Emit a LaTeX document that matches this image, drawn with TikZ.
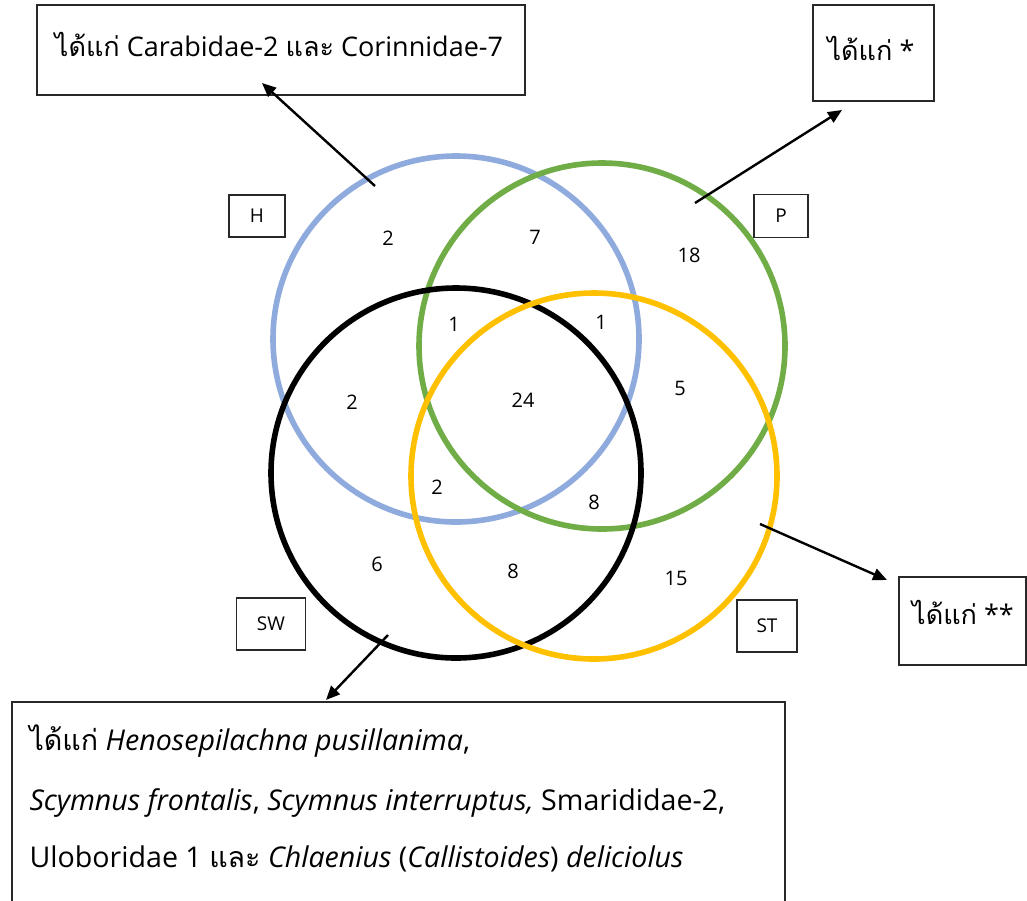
\documentclass[tikz,border=0pt]{standalone}
\usepackage{fontspec}
\setmainfont{Open Sans}
\newfontfamily\thai[Script=Thai]{Loma}
\usetikzlibrary{arrows.meta}
\definecolor{hblue}{RGB}{143,170,220}
\definecolor{pgreen}{RGB}{112,173,71}
\definecolor{styellow}{RGB}{255,192,0}
\definecolor{boxgray}{RGB}{40,40,40}
\begin{document}
\begin{tikzpicture}[x=1pt,y=-1pt,
  ring/.style={line width=5.6pt},
  tag/.style={draw=boxgray,line width=1.4pt,inner sep=0pt,font=\fontsize{19}{21}\selectfont},
  note/.style={draw=boxgray,line width=1.4pt,inner sep=0pt},
  num/.style={font=\fontsize{20}{22}\selectfont},
  pointer/.style={line width=2.4pt,-{Triangle[length=14pt,width=12pt]}},
  bigtxt/.style={font=\fontsize{27}{30}\selectfont},
  bottxt/.style={font=\fontsize{28.6}{30}\selectfont,anchor=west}]
\useasboundingbox[fill=white] (0,0) rectangle (1027,900);
% circles
\draw[ring,hblue] (456,339) circle (183);
\draw[ring,pgreen] (602,346) circle (183);
\draw[ring,black] (456,473) circle (185);
\draw[ring,styellow] (594,476) circle (183);
% set tags
\node[tag, minimum width=56pt, minimum height=42pt] (H) at (257,216) {H};
\node[tag, minimum width=54pt, minimum height=43pt] (P) at (781,216) {P};
\node[tag, minimum width=69pt, minimum height=52pt] (SW) at (271,624) {SW};
\node[tag, minimum width=60pt, minimum height=52pt] (ST) at (767,626) {ST};
% numbers
\node[num] (n1) at (388,238) {2};
\node[num] (n2) at (535,237) {7};
\node[num] (n3) at (689,255) {18};
\node[num] (n4) at (454,324) {1};
\node[num] (n5) at (601,322) {1};
\node[num] (n6) at (352,402) {2};
\node[num] (n7) at (523,400) {24};
\node[num] (n8) at (680,388) {5};
\node[num] (n9) at (437,487) {2};
\node[num] (n10) at (594,502) {8};
\node[num] (n11) at (377,564) {6};
\node[num] (n12) at (513,571) {8};
\node[num] (n13) at (676,578) {15};
% note boxes
\draw[note] (37,5) rectangle (525,95);
\node[bigtxt] (tl) at (279,45) {{\thai ได้แก่} Carabidae-2 {\thai และ} Corinnidae-7};
\draw[note] (813,5) rectangle (934,101);
\node[bigtxt] (tr) at (871,48) {{\thai ได้แก่} *};
\draw[note] (899,577) rectangle (1026,665);
\node[bigtxt] (rr) at (963,612) {{\thai ได้แก่} **};
\draw[note] (12,702) rectangle (785,905);
\node[bottxt] (b1) at (26,741) {{\thai ได้แก่} \textit{Henosepilachna pusillanima},};
\node[bottxt] (b2) at (26,803) {\textit{Scymnus frontalis}, \textit{Scymnus interruptus,} Smarididae-2,};
\node[bottxt] (b3) at (26,859) {Uloboridae 1 {\thai และ} \textit{Chlaenius} (\textit{Callistoides}) \textit{deliciolus}};
% pointers
\coordinate (a1s) at (375,186); \coordinate (a1e) at (262,83);
\coordinate (a2s) at (695,203); \coordinate (a2e) at (842,110);
\coordinate (a3s) at (760,524); \coordinate (a3e) at (887,580);
\coordinate (a4s) at (388,635); \coordinate (a4e) at (326,700);
\draw[pointer] (a1s) -- (a1e);
\draw[pointer] (a2s) -- (a2e);
\draw[pointer] (a3s) -- (a3e);
\draw[pointer] (a4s) -- (a4e);
\end{tikzpicture}
\end{document}
